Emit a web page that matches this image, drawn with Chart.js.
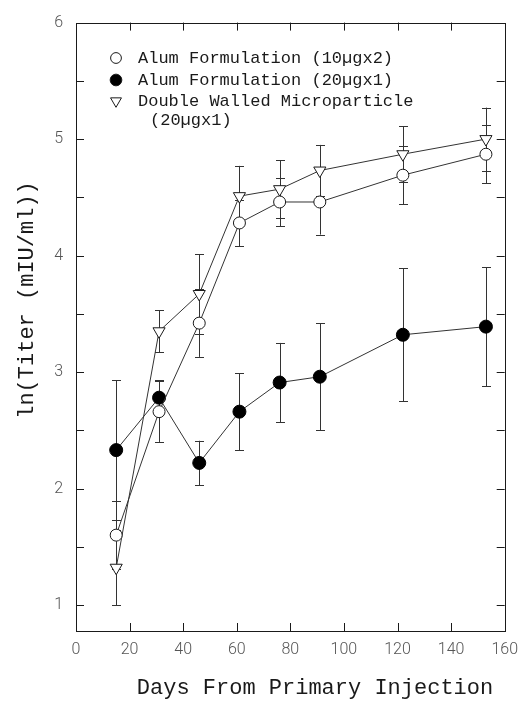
<!DOCTYPE html>
<html>
<head>
<meta charset="utf-8">
<title>Titer vs days</title>
<script src="https://cdn.jsdelivr.net/npm/chart.js@4.4.1/dist/chart.umd.min.js"></script>
<style>
  html, body { margin: 0; padding: 0; background: #fff; }
  #wrap { width: 527px; height: 702px; }
</style>
</head>
<body>
<div id="wrap"><canvas id="myChart" width="527" height="702"></canvas></div>
<script>
// days after the primary injection
var days = [15, 31, 46, 61, 76, 91, 122, 153];

// ln(titer) means and error bar half-lengths
var alum10x2 = [1.60, 2.66, 3.42, 4.28, 4.46, 4.46, 4.69, 4.87];
var alum10x2Err = [0.29, 0.26, 0.29, 0.20, 0.21, 0.28, 0.25, 0.25];

var alum20x1 = [2.33, 2.78, 2.22, 2.66, 2.91, 2.96, 3.32, 3.39];
var alum20x1Err = [0.60, 0.15, 0.19, 0.33, 0.34, 0.46, 0.57, 0.51];

var dwm20x1 = [1.32, 3.35, 3.67, 4.51, 4.57, 4.73, 4.87, 5.00];
var dwm20x1Err = [0.32, 0.18, 0.34, 0.26, 0.25, 0.22, 0.24, 0.27];

// axis ticks
var xTicks = [0, 20, 40, 60, 80, 100, 120, 140, 160];
var yTicks = [1, 2, 3, 4, 5, 6];
var yMinorTicks = [1.5, 2.5, 3.5, 4.5, 5.5];

var INK = "#1a1a1a";
var monoFont = "'Liberation Mono', 'DejaVu Sans Mono', monospace";

function toPoints(vals) {
  return vals.map(function (v, i) { return { x: days[i], y: v }; });
}

// vertical error bars with caps, drawn under the markers
var errorBars = {
  id: "errorBars",
  beforeDatasetsDraw: function (chart) {
    var ctx = chart.ctx, xs = chart.scales.x, ys = chart.scales.y;
    ctx.save();
    ctx.strokeStyle = "#333";
    ctx.lineWidth = 1;
    chart.data.datasets.forEach(function (ds) {
      ds.data.forEach(function (p, i) {
        var e = ds.errors[i];
        var px = Math.round(xs.getPixelForValue(p.x)) + 0.5;
        var top = ys.getPixelForValue(p.y + e);
        var bot = ys.getPixelForValue(p.y - e);
        ctx.beginPath();
        ctx.moveTo(px, top); ctx.lineTo(px, bot);
        ctx.moveTo(px - 4.5, Math.round(top) + 0.5); ctx.lineTo(px + 4.5, Math.round(top) + 0.5);
        ctx.moveTo(px - 4.5, Math.round(bot) + 0.5); ctx.lineTo(px + 4.5, Math.round(bot) + 0.5);
        ctx.stroke();
      });
    });
    ctx.restore();
  }
};

// box frame with inward tick marks on all four sides
var frame = {
  id: "frame",
  beforeDatasetsDraw: function (chart) {
    var ctx = chart.ctx, a = chart.chartArea, xs = chart.scales.x, ys = chart.scales.y;
    var len = 8;
    ctx.save();
    ctx.strokeStyle = INK;
    ctx.lineWidth = 1;
    ctx.strokeRect(Math.round(a.left) + 0.5, Math.round(a.top) + 0.5,
      Math.round(a.right - a.left), Math.round(a.bottom - a.top));
    ctx.beginPath();
    xTicks.slice(1, -1).forEach(function (v) {
      var px = Math.round(xs.getPixelForValue(v)) + 0.5;
      ctx.moveTo(px, a.bottom); ctx.lineTo(px, a.bottom - len);
      ctx.moveTo(px, a.top); ctx.lineTo(px, a.top + len);
    });
    yTicks.slice(0, -1).concat(yMinorTicks).forEach(function (v) {
      var py = Math.round(ys.getPixelForValue(v)) + 0.5;
      ctx.moveTo(a.left, py); ctx.lineTo(a.left + len, py);
      ctx.moveTo(a.right, py); ctx.lineTo(a.right - len, py);
    });
    ctx.stroke();
    ctx.restore();
  }
};

// axis titles and the legend box in the upper left
var labelsAndLegend = {
  id: "labelsAndLegend",
  afterDraw: function (chart) {
    var ctx = chart.ctx;
    ctx.save();
    ctx.fillStyle = INK;
    ctx.font = "22px " + monoFont;
    ctx.textAlign = "center";
    ctx.textBaseline = "middle";
    ctx.fillText("Days From Primary Injection", 315, 688);

    ctx.translate(27, 300);
    ctx.rotate(-Math.PI / 2);
    ctx.fillText("ln(Titer (mIU/ml))", 0, 0);
    ctx.restore();

    ctx.save();
    ctx.font = "17px " + monoFont;
    ctx.textAlign = "left";
    ctx.textBaseline = "middle";
    var rows = [58, 80, 101];
    chart.data.datasets.forEach(function (ds, i) {
      ctx.strokeStyle = INK;
      ctx.fillStyle = ds.pointBackgroundColor;
      ctx.lineWidth = 1;
      Chart.helpers.drawPoint(ctx, {
        pointStyle: ds.pointStyle, radius: ds.pointRadius * 0.9, rotation: ds.pointRotation || 0, borderWidth: 1
      }, 116, rows[i]);
      ctx.fillStyle = INK;
      var lines = [].concat(ds.label);
      ctx.fillText(lines[0], 138, rows[i]);
      if (lines[1]) ctx.fillText(lines[1], 150, rows[i] + 19);
    });
    ctx.restore();
  }
};

var ctx = document.getElementById("myChart");
var chart = new Chart(ctx, {
  type: "line",
  data: {
    datasets: [
      {
        label: "Alum Formulation (10µgx2)",
        data: toPoints(alum10x2),
        errors: alum10x2Err,
        pointStyle: "circle",
        pointRadius: 6,
        pointBackgroundColor: "#fff",
        pointBorderColor: INK,
        pointBorderWidth: 1,
        borderColor: "#333",
        borderWidth: 1
      },
      {
        label: "Alum Formulation (20µgx1)",
        data: toPoints(alum20x1),
        errors: alum20x1Err,
        pointStyle: "circle",
        pointRadius: 6.5,
        pointBackgroundColor: "#000",
        pointBorderColor: "#000",
        pointBorderWidth: 1,
        borderColor: "#333",
        borderWidth: 1
      },
      {
        label: ["Double Walled Microparticle", "(20µgx1)"],
        data: toPoints(dwm20x1),
        errors: dwm20x1Err,
        pointStyle: "triangle",
        pointRotation: 180,
        pointRadius: 7,
        pointBackgroundColor: "#fff",
        pointBorderColor: INK,
        pointBorderWidth: 1,
        borderColor: "#333",
        borderWidth: 1
      }
    ]
  },
  options: {
    responsive: false,
    animation: false,
    layout: { padding: { left: 0, right: 19, top: 21, bottom: 0 } },
    plugins: { legend: { display: false }, tooltip: { enabled: false } },
    scales: {
      x: {
        type: "linear",
        min: 0,
        max: 160,
        grid: { display: false, drawTicks: false },
        border: { display: false },
        afterFit: function (s) { s.height = 71; },
        afterBuildTicks: function (s) { s.ticks = xTicks.map(function (v) { return { value: v }; }); },
        ticks: {
          padding: 9,
          color: "#555",
          font: { family: "Roboto", weight: "300", size: 16 }
        }
      },
      y: {
        type: "linear",
        min: 0.777,
        max: 6,
        grid: { display: false, drawTicks: false },
        border: { display: false },
        afterFit: function (s) { s.width = 76; },
        afterBuildTicks: function (s) { s.ticks = yTicks.map(function (v) { return { value: v }; }); },
        ticks: {
          padding: 13,
          color: "#555",
          font: { family: "Roboto", weight: "300", size: 16 }
        }
      }
    }
  },
  plugins: [frame, errorBars, labelsAndLegend]
});
</script>
</body>
</html>
